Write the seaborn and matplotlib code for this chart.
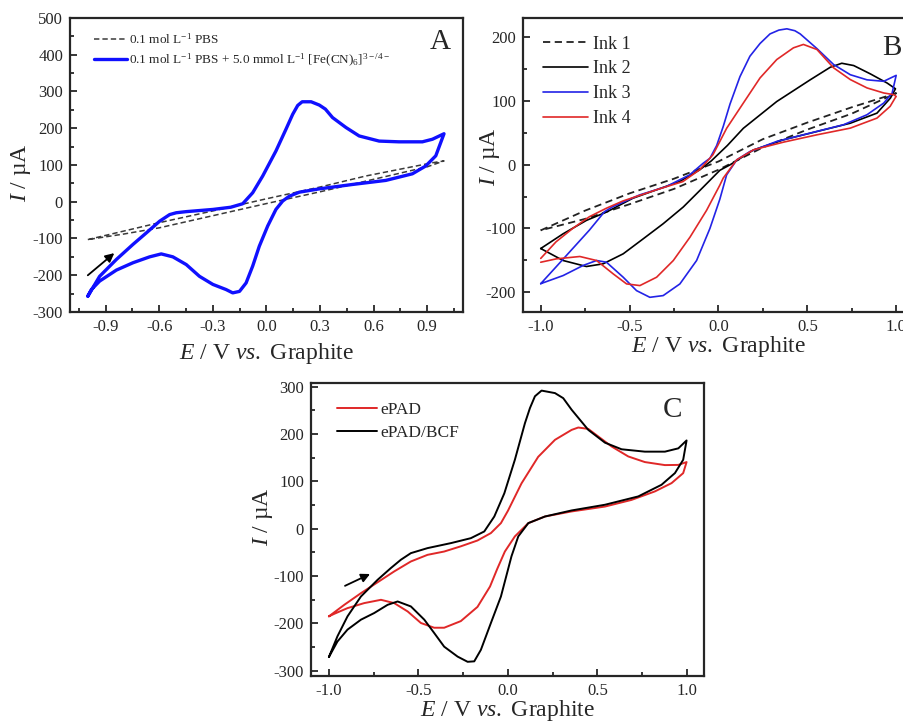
import matplotlib
matplotlib.use("Agg")
import numpy as np
import pandas as pd
import matplotlib.pyplot as plt
import seaborn as sns
from matplotlib.ticker import MultipleLocator, FormatStrFormatter

# ==============================================================================
# DATA
# ==============================================================================
# Panel A - PBS blank (dashed) and PBS + ferri/ferrocyanide (blue)
A_PBS_E = [-1.0, -0.8, -0.6, -0.3, 0.0, 0.3, 0.556, 0.929, 0.994,
           0.9, 0.556, 0.3, 0.0, -0.3, -0.6, -0.8, -1.0]
A_PBS_I = [-103, -80, -57, -25, 8, 40, 70, 106, 111,
           95, 56, 27, -5, -38, -71, -88, -103]

A_FE_E = [-1.0, -0.934, -0.84, -0.747, -0.673, -0.598, -0.542, -0.505, -0.45, -0.3,
          -0.2, -0.133, -0.077, -0.021, 0.053, 0.109, 0.147, 0.175, 0.2, 0.25,
          0.296, 0.33, 0.37, 0.445, 0.519, 0.631, 0.742, 0.873, 0.929, 0.994,
          0.948, 0.891, 0.817, 0.668, 0.482, 0.296, 0.184, 0.128, 0.091, 0.053,
          0.007, -0.04, -0.077, -0.114, -0.151, -0.189, -0.226, -0.3, -0.375,
          -0.449, -0.524, -0.589, -0.654, -0.747, -0.84, -0.934, -0.98, -1.0]
A_FE_I = [-257, -203, -157, -116, -85, -53, -35, -30, -27, -21,
          -15, -5.5, 24.5, 70, 138, 197, 238, 262, 272, 272,
          263, 252, 229, 202, 179, 165, 163, 163, 170, 185,
          125, 97, 76, 58, 47, 35, 26, 15, 2, -21,
          -66, -121, -175, -221, -244, -248, -239, -225, -203,
          -171, -150, -142, -150, -166, -186, -216, -239, -257]

# Panel B - four inks
INK1_E = [-1.0, -0.75, -0.5, -0.25, 0.0, 0.25, 0.5, 0.75, 1.0,
          0.75, 0.5, 0.25, 0.0, -0.25, -0.5, -0.75, -1.0]
INK1_I = [-103, -72, -45, -22, 5, 40, 66, 90, 112,
          80, 55, 27, -8, -38, -62, -85, -103]

INK2_E = [-1.0, -0.874, -0.743, -0.63, -0.482, -0.35, -0.219, -0.106, -0.04,
          0.05, 0.14, 0.328, 0.516, 0.629, 0.694, 0.761, 0.855, 0.949, 0.996,
          0.968, 0.892, 0.742, 0.554, 0.366, 0.197, 0.065, 0.008, -0.085, -0.198,
          -0.311, -0.423, -0.536, -0.649, -0.743, -0.874, -1.0]
INK2_I = [-131.5, -108.4, -87.4, -74.3, -52.7, -39.6, -26.5, -8.2, 6,
          30, 57, 99, 133, 152.7, 159, 155.4, 142.3, 128, 119,
          104.5, 80.8, 65, 52, 39, 23, -0.3, -8.8, -35, -66.4,
          -92.6, -116.2, -139.8, -155.5, -159.7, -150.3, -131.5]

INK3_E = [-1.0, -0.914, -0.82, -0.726, -0.641, -0.594, -0.444, -0.294, -0.162, -0.087,
          -0.048, -0.01, 0.027, 0.065, 0.121, 0.177, 0.234, 0.29, 0.34, 0.385,
          0.43, 0.46, 0.554, 0.648, 0.742, 0.836, 0.93, 0.977, 1.0,
          0.977, 0.93, 0.836, 0.704, 0.516, 0.328, 0.178, 0.103, 0.046, 0.008,
          -0.048, -0.123, -0.217, -0.311, -0.386, -0.461, -0.536, -0.63,
          -0.686, -0.761, -0.874, -1.0]
INK3_I = [-186.6, -160.4, -131.5, -102.6, -73.7, -65.8, -47.5, -34.4, -16, 2,
          10, 30, 60, 95, 138, 170, 190, 205, 211, 213,
          210, 205, 182, 157, 141, 133, 130.7, 137, 140,
          112, 96.6, 78.3, 62.6, 49.5, 36.4, 20.7, 7.6, -16, -54,
          -100, -150.3, -187, -205.3, -208, -197.5, -176.5, -153,
          -150.3, -158, -173.9, -186.6]

INK4_E = [-1.0, -0.914, -0.82, -0.726, -0.632, -0.538, -0.35, -0.2, -0.106, -0.031,
          0.046, 0.14, 0.234, 0.328, 0.422, 0.478, 0.554, 0.648, 0.742, 0.836,
          0.93, 0.986, 1.0,
          0.994, 0.966, 0.892, 0.742, 0.554, 0.366, 0.197, 0.103, 0.027, 0.008,
          -0.067, -0.16, -0.254, -0.348, -0.442, -0.517, -0.592, -0.686, -0.78,
          -0.912, -1.0]
INK4_I = [-147, -121, -100, -81.6, -68.5, -57, -39.5, -26.5, -8, 15.5,
          57, 96.6, 136, 164.8, 183.2, 188.5, 180.6, 151.8, 133.4, 120.3,
          112.4, 109.8, 107,
          104.5, 91.4, 73, 57.3, 46.8, 35.3, 23.3, 7.6, -21, -32,
          -71.7, -113.6, -150.3, -176.5, -189.6, -187, -171.3, -150.3, -144,
          -147.7, -153]

# Panel C - ePAD vs ePAD/BCF
EPAD_E = [-1.0, -0.914, -0.821, -0.728, -0.635, -0.542, -0.449, -0.356, -0.263, -0.17,
          -0.095, -0.039, 0.0, 0.076, 0.169, 0.263, 0.356, 0.393, 0.449, 0.505,
          0.579, 0.672, 0.765, 0.877, 0.952, 0.998,
          0.979, 0.914, 0.821, 0.69, 0.542, 0.356, 0.207, 0.114, 0.039, -0.017,
          -0.06, -0.1, -0.17, -0.263, -0.356, -0.412, -0.486, -0.56, -0.635,
          -0.709, -0.803, -0.896, -0.97, -1.0]
EPAD_I = [-185, -160.6, -136, -113, -90, -69, -55, -48, -37, -24.7,
          -9, 12, 38, 96, 152, 188, 209, 214, 211, 195,
          174, 152.9, 141, 134.6, 135, 141,
          117.6, 96.5, 79, 61, 47, 36.7, 26, 12, -16, -48,
          -85, -122, -165, -195, -209, -209, -199, -174.6, -157,
          -150, -157, -167.6, -179.6, -185]

BCF_E = [-1.0, -0.952, -0.896, -0.821, -0.728, -0.654, -0.598, -0.542, -0.449, -0.318,
         -0.207, -0.132, -0.076, -0.02, 0.039, 0.095, 0.123, 0.151, 0.188, 0.263,
         0.309, 0.356, 0.449, 0.542, 0.635, 0.765, 0.877, 0.952, 0.998,
         0.979, 0.933, 0.858, 0.728, 0.542, 0.356, 0.207, 0.114, 0.058, 0.02,
         -0.039, -0.095, -0.151, -0.188, -0.225, -0.281, -0.356, -0.412, -0.467,
         -0.542, -0.616, -0.672, -0.747, -0.821, -0.896, -0.952, -1.0]
BCF_I = [-271, -227, -185, -143, -107.8, -83, -65.4, -51.4, -40.8, -30.2,
         -19.8, -5.6, 26, 75, 146, 223, 255, 280, 292, 286.7,
         276, 251.5, 209, 182, 168, 163, 163, 170, 186.7,
         145.8, 117.7, 93, 68.4, 50.8, 38.8, 26, 12, -16, -58,
         -143, -199, -255.7, -280, -281, -270, -249, -220, -192,
         -164, -153.5, -160.6, -178, -192, -213, -238, -271]

# ==============================================================================
# STYLE
# ==============================================================================
sns.set_style("ticks")
plt.rcParams['font.family'] = ['Liberation Serif', 'DejaVu Serif']
plt.rcParams['mathtext.fontset'] = 'custom'
plt.rcParams['mathtext.rm'] = 'Liberation Serif'
plt.rcParams['mathtext.it'] = 'Liberation Serif:italic'
plt.rcParams['mathtext.bf'] = 'Liberation Serif:bold'
plt.rcParams['axes.unicode_minus'] = False

XLABEL = r'$E$ / V $vs.$ Graphite'
YLABEL = r'$I$ / µA'


def cv(ax, E, I, **kw):
    df = pd.DataFrame({'E': E, 'I': I})
    sns.lineplot(data=df, x='E', y='I', sort=False, estimator=None, ax=ax,
                 solid_joinstyle='round', **kw)


def style_axes(ax, xmajor, ymajor, xlab_xy, ylab_xy):
    ax.xaxis.set_major_locator(MultipleLocator(xmajor))
    ax.xaxis.set_minor_locator(MultipleLocator(xmajor / 2))
    ax.yaxis.set_major_locator(MultipleLocator(ymajor))
    ax.yaxis.set_minor_locator(MultipleLocator(ymajor / 2))
    ax.xaxis.set_major_formatter(FormatStrFormatter('%.1f'))
    ax.tick_params(which='both', direction='in', labelsize=12, width=1.3)
    ax.tick_params(which='major', length=5, pad=5)
    ax.tick_params(which='minor', length=3)
    for s in ax.spines.values():
        s.set_linewidth(1.6)
        s.set_visible(True)
    ax.set_xlabel(XLABEL, fontsize=17)
    ax.set_ylabel(YLABEL, fontsize=17)
    ax.xaxis.set_label_coords(*xlab_xy)
    ax.yaxis.set_label_coords(*ylab_xy)


fig = plt.figure(figsize=(9.04, 7.22), dpi=100)

# ==============================================================================
# PANEL A
# ==============================================================================
axA = fig.add_axes([0.0774, 0.5679, 0.4347, 0.4072])
cv(axA, A_PBS_E, A_PBS_I, color='#3a3a3a', lw=1.1, linestyle=(0, (3.5, 2)),
   label=r'0.1 mol L$^{-1}$ PBS')
cv(axA, A_FE_E, A_FE_I, color='#1010ff', lw=2.4,
   label=r'0.1 mol L$^{-1}$ PBS + 5.0 mmol L$^{-1}$ [Fe(CN)$_6$]$^{3-/4-}$')
axA.set_xlim(-1.1, 1.1)
axA.set_ylim(-300, 500)
style_axes(axA, 0.3, 100, (0.5, -0.1), (-0.094, 0.473))
axA.set_xticks([-0.9, -0.6, -0.3, 0.0, 0.3, 0.6, 0.9])
axA.legend(loc='upper left', bbox_to_anchor=(0.06, 0.952), frameon=False,
           fontsize=9.5, handlelength=2.5, handletextpad=0.2, labelspacing=0.4,
           borderpad=0, borderaxespad=0)
axA.annotate('', xy=(-0.84, -135), xytext=(-1.012, -205),
             arrowprops=dict(arrowstyle='-|>', color='black', lw=1.3, mutation_scale=13))
axA.text(0.941, 0.918, 'A', transform=axA.transAxes, fontsize=21,
         ha='center', va='center')

# ==============================================================================
# PANEL B
# ==============================================================================
axB = fig.add_axes([0.5785, 0.5679, 0.4325, 0.4072])
cv(axB, INK1_E, INK1_I, color='#222222', lw=1.3, linestyle=(0, (4, 2.5)), label='Ink 1')
cv(axB, INK2_E, INK2_I, color='black', lw=1.2, label='Ink 2')
cv(axB, INK3_E, INK3_I, color='#2323e6', lw=1.2, label='Ink 3')
cv(axB, INK4_E, INK4_I, color='#e02828', lw=1.2, label='Ink 4')
axB.set_xlim(-1.1, 1.1)
axB.set_ylim(-231, 230)
style_axes(axB, 0.5, 100, (0.5, -0.075), (-0.054, 0.527))
axB.legend(loc='upper left', bbox_to_anchor=(0.05, 0.94), frameon=False,
           fontsize=13, handlelength=2.5, handletextpad=0.3, labelspacing=0.43,
           borderpad=0, borderaxespad=0)
axB.text(0.944, 0.898, 'B', transform=axB.transAxes, fontsize=21,
         ha='center', va='center')

# ==============================================================================
# PANEL C
# ==============================================================================
axC = fig.add_axes([0.344, 0.0637, 0.4347, 0.4058])
cv(axC, EPAD_E, EPAD_I, color='#e02828', lw=1.4, label='ePAD')
cv(axC, BCF_E, BCF_I, color='black', lw=1.4, label='ePAD/BCF')
axC.set_xlim(-1.1, 1.095)
axC.set_ylim(-311, 308)
style_axes(axC, 0.5, 100, (0.5, -0.075), (-0.092, 0.543))
axC.legend(loc='upper left', bbox_to_anchor=(0.066, 0.935), frameon=False,
           fontsize=12.5, handlelength=2.3, handletextpad=0.2, labelspacing=0.37,
           borderpad=0, borderaxespad=0)
axC.annotate('', xy=(-0.756, -93), xytext=(-0.924, -123),
             arrowprops=dict(arrowstyle='-|>', color='black', lw=1.3, mutation_scale=13))
axC.text(0.921, 0.908, 'C', transform=axC.transAxes, fontsize=21,
         ha='center', va='center')

fig.savefig('out.png', dpi=100)
